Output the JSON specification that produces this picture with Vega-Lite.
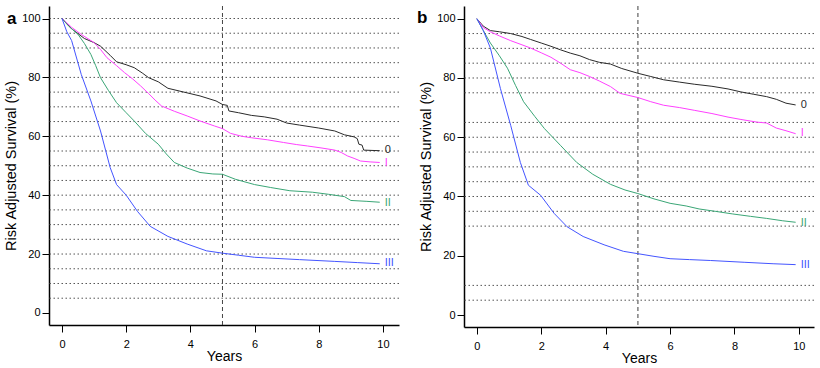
{
  "$schema": "https://vega.github.io/schema/vega-lite/v6.json",
  "padding": {"left": 3, "top": 5, "right": 0, "bottom": 0},
  "background": "white",
  "config": {
    "view": {"stroke": null},
    "font": "Liberation Sans",
    "axis": {"domainColor": "#000", "domainWidth": 1.5, "tickColor": "#000", "tickWidth": 1, "tickSize": 7, "labelColor": "#000", "labelFontSize": 11, "labelPadding": 2, "titleColor": "#000", "titleFontWeight": "normal", "grid": false},
    "axisX": {"titleFontSize": 14, "titlePadding": 0, "labelPadding": 6},
    "axisY": {"titleFontSize": 14.5, "titlePadding": 3},
    "title": {"fontSize": 17, "fontWeight": "bold", "color": "#000", "anchor": "start", "frame": "group", "offset": 0, "baseline": "alphabetic"}
  },
  "datasets": {
    "grid": [
      {"p": "a", "s": 5}, {"p": "a", "s": 10}, {"p": "a", "s": 15}, {"p": "a", "s": 20}, {"p": "a", "s": 25}, {"p": "a", "s": 30}, {"p": "a", "s": 35}, {"p": "a", "s": 40}, {"p": "a", "s": 45}, {"p": "a", "s": 50}, {"p": "a", "s": 55}, {"p": "a", "s": 60}, {"p": "a", "s": 65}, {"p": "a", "s": 70}, {"p": "a", "s": 75}, {"p": "a", "s": 80}, {"p": "a", "s": 85}, {"p": "a", "s": 90}, {"p": "a", "s": 95}, {"p": "a", "s": 100},
      {"p": "b", "s": 5}, {"p": "b", "s": 10}, {"p": "b", "s": 30}, {"p": "b", "s": 35}, {"p": "b", "s": 40}, {"p": "b", "s": 45}, {"p": "b", "s": 50}, {"p": "b", "s": 55}, {"p": "b", "s": 60}, {"p": "b", "s": 65}, {"p": "b", "s": 75}, {"p": "b", "s": 80}, {"p": "b", "s": 85}, {"p": "b", "s": 90}, {"p": "b", "s": 95}
    ],
    "ref": [{"t": 5}],
    "labels": [
      {"p": "a", "g": "0", "t": 9.9, "s": 55.4, "label": "0"},
      {"p": "a", "g": "I", "t": 9.9, "s": 50.9, "label": "I"},
      {"p": "a", "g": "II", "t": 9.9, "s": 37.4, "label": "II"},
      {"p": "a", "g": "III", "t": 9.9, "s": 16.8, "label": "III"},
      {"p": "b", "g": "0", "t": 9.9, "s": 70.9, "label": "0"},
      {"p": "b", "g": "I", "t": 9.9, "s": 61.3, "label": "I"},
      {"p": "b", "g": "II", "t": 9.9, "s": 31.2, "label": "II"},
      {"p": "b", "g": "III", "t": 9.9, "s": 17, "label": "III"}
    ],
    "curves": [
      {"p": "a", "g": "0", "t": 0, "s": 100}, {"p": "a", "g": "0", "t": 0.3, "s": 96.5}, {"p": "a", "g": "0", "t": 0.7, "s": 93.2}, {"p": "a", "g": "0", "t": 1.0, "s": 91.8}, {"p": "a", "g": "0", "t": 1.2, "s": 90.6}, {"p": "a", "g": "0", "t": 1.5, "s": 87.5}, {"p": "a", "g": "0", "t": 1.7, "s": 85.3}, {"p": "a", "g": "0", "t": 2.0, "s": 84.3}, {"p": "a", "g": "0", "t": 2.25, "s": 83.3}, {"p": "a", "g": "0", "t": 2.5, "s": 81.5}, {"p": "a", "g": "0", "t": 2.7, "s": 79.9}, {"p": "a", "g": "0", "t": 3.0, "s": 78.5}, {"p": "a", "g": "0", "t": 3.3, "s": 76.3}, {"p": "a", "g": "0", "t": 3.8, "s": 75.0}, {"p": "a", "g": "0", "t": 4.3, "s": 73.7}, {"p": "a", "g": "0", "t": 4.8, "s": 72.0}, {"p": "a", "g": "0", "t": 5.0, "s": 70.8}, {"p": "a", "g": "0", "t": 5.15, "s": 70.5}, {"p": "a", "g": "0", "t": 5.2, "s": 68.6}, {"p": "a", "g": "0", "t": 5.5, "s": 68.0}, {"p": "a", "g": "0", "t": 5.9, "s": 67.1}, {"p": "a", "g": "0", "t": 6.3, "s": 66.6}, {"p": "a", "g": "0", "t": 6.7, "s": 65.8}, {"p": "a", "g": "0", "t": 7.0, "s": 64.5}, {"p": "a", "g": "0", "t": 7.4, "s": 63.8}, {"p": "a", "g": "0", "t": 8.0, "s": 62.8}, {"p": "a", "g": "0", "t": 8.5, "s": 61.8}, {"p": "a", "g": "0", "t": 8.8, "s": 60.5}, {"p": "a", "g": "0", "t": 9.1, "s": 59.8}, {"p": "a", "g": "0", "t": 9.2, "s": 59.2}, {"p": "a", "g": "0", "t": 9.25, "s": 57.3}, {"p": "a", "g": "0", "t": 9.35, "s": 57.0}, {"p": "a", "g": "0", "t": 9.4, "s": 55.3}, {"p": "a", "g": "0", "t": 9.9, "s": 55.1},
      {"p": "a", "g": "I", "t": 0, "s": 100}, {"p": "a", "g": "I", "t": 0.3, "s": 97.0}, {"p": "a", "g": "I", "t": 0.6, "s": 94.6}, {"p": "a", "g": "I", "t": 1.0, "s": 91.8}, {"p": "a", "g": "I", "t": 1.2, "s": 89.5}, {"p": "a", "g": "I", "t": 1.4, "s": 86.7}, {"p": "a", "g": "I", "t": 1.7, "s": 84.0}, {"p": "a", "g": "I", "t": 1.95, "s": 81.6}, {"p": "a", "g": "I", "t": 2.2, "s": 79.5}, {"p": "a", "g": "I", "t": 2.45, "s": 77.1}, {"p": "a", "g": "I", "t": 2.7, "s": 74.5}, {"p": "a", "g": "I", "t": 2.9, "s": 72.3}, {"p": "a", "g": "I", "t": 3.1, "s": 70.3}, {"p": "a", "g": "I", "t": 3.5, "s": 68.5}, {"p": "a", "g": "I", "t": 3.9, "s": 66.9}, {"p": "a", "g": "I", "t": 4.3, "s": 65.2}, {"p": "a", "g": "I", "t": 4.75, "s": 63.5}, {"p": "a", "g": "I", "t": 5.0, "s": 62.6}, {"p": "a", "g": "I", "t": 5.25, "s": 61.0}, {"p": "a", "g": "I", "t": 5.6, "s": 60.0}, {"p": "a", "g": "I", "t": 5.9, "s": 59.5}, {"p": "a", "g": "I", "t": 6.4, "s": 58.8}, {"p": "a", "g": "I", "t": 6.9, "s": 57.9}, {"p": "a", "g": "I", "t": 7.3, "s": 57.2}, {"p": "a", "g": "I", "t": 7.65, "s": 56.7}, {"p": "a", "g": "I", "t": 8.1, "s": 56.0}, {"p": "a", "g": "I", "t": 8.5, "s": 55.3}, {"p": "a", "g": "I", "t": 8.7, "s": 54.5}, {"p": "a", "g": "I", "t": 8.9, "s": 53.3}, {"p": "a", "g": "I", "t": 9.1, "s": 52.5}, {"p": "a", "g": "I", "t": 9.3, "s": 51.6}, {"p": "a", "g": "I", "t": 9.6, "s": 51.3}, {"p": "a", "g": "I", "t": 9.9, "s": 51.1},
      {"p": "a", "g": "II", "t": 0, "s": 100}, {"p": "a", "g": "II", "t": 0.2, "s": 97.5}, {"p": "a", "g": "II", "t": 0.5, "s": 94.6}, {"p": "a", "g": "II", "t": 0.7, "s": 91.5}, {"p": "a", "g": "II", "t": 0.9, "s": 87.8}, {"p": "a", "g": "II", "t": 1.05, "s": 84.0}, {"p": "a", "g": "II", "t": 1.2, "s": 79.9}, {"p": "a", "g": "II", "t": 1.45, "s": 75.5}, {"p": "a", "g": "II", "t": 1.7, "s": 71.4}, {"p": "a", "g": "II", "t": 2.0, "s": 68.0}, {"p": "a", "g": "II", "t": 2.25, "s": 65.2}, {"p": "a", "g": "II", "t": 2.6, "s": 61.0}, {"p": "a", "g": "II", "t": 3.0, "s": 57.3}, {"p": "a", "g": "II", "t": 3.25, "s": 54.0}, {"p": "a", "g": "II", "t": 3.5, "s": 51.1}, {"p": "a", "g": "II", "t": 3.9, "s": 49.2}, {"p": "a", "g": "II", "t": 4.3, "s": 47.7}, {"p": "a", "g": "II", "t": 4.7, "s": 47.2}, {"p": "a", "g": "II", "t": 5.0, "s": 47.1}, {"p": "a", "g": "II", "t": 5.4, "s": 45.4}, {"p": "a", "g": "II", "t": 6.0, "s": 43.6}, {"p": "a", "g": "II", "t": 6.5, "s": 42.6}, {"p": "a", "g": "II", "t": 7.1, "s": 41.5}, {"p": "a", "g": "II", "t": 7.8, "s": 41.0}, {"p": "a", "g": "II", "t": 8.3, "s": 40.3}, {"p": "a", "g": "II", "t": 8.8, "s": 39.5}, {"p": "a", "g": "II", "t": 9.0, "s": 38.2}, {"p": "a", "g": "II", "t": 9.5, "s": 37.9}, {"p": "a", "g": "II", "t": 9.9, "s": 37.6},
      {"p": "a", "g": "III", "t": 0, "s": 100}, {"p": "a", "g": "III", "t": 0.15, "s": 95.5}, {"p": "a", "g": "III", "t": 0.3, "s": 92.5}, {"p": "a", "g": "III", "t": 0.6, "s": 81.0}, {"p": "a", "g": "III", "t": 0.9, "s": 72.0}, {"p": "a", "g": "III", "t": 1.2, "s": 61.8}, {"p": "a", "g": "III", "t": 1.5, "s": 49.4}, {"p": "a", "g": "III", "t": 1.7, "s": 43.6}, {"p": "a", "g": "III", "t": 2.0, "s": 40.0}, {"p": "a", "g": "III", "t": 2.35, "s": 34.5}, {"p": "a", "g": "III", "t": 2.75, "s": 29.4}, {"p": "a", "g": "III", "t": 3.3, "s": 26.0}, {"p": "a", "g": "III", "t": 3.9, "s": 23.4}, {"p": "a", "g": "III", "t": 4.5, "s": 21.1}, {"p": "a", "g": "III", "t": 5.0, "s": 20.3}, {"p": "a", "g": "III", "t": 5.5, "s": 19.6}, {"p": "a", "g": "III", "t": 6.0, "s": 18.9}, {"p": "a", "g": "III", "t": 6.7, "s": 18.5}, {"p": "a", "g": "III", "t": 7.4, "s": 18.1}, {"p": "a", "g": "III", "t": 8.5, "s": 17.5}, {"p": "a", "g": "III", "t": 9.2, "s": 17.1}, {"p": "a", "g": "III", "t": 9.9, "s": 16.7},
      {"p": "b", "g": "0", "t": 0, "s": 100}, {"p": "b", "g": "0", "t": 0.2, "s": 97.5}, {"p": "b", "g": "0", "t": 0.42, "s": 96.0}, {"p": "b", "g": "0", "t": 0.7, "s": 95.6}, {"p": "b", "g": "0", "t": 1.05, "s": 95.0}, {"p": "b", "g": "0", "t": 1.4, "s": 94.0}, {"p": "b", "g": "0", "t": 1.67, "s": 93.0}, {"p": "b", "g": "0", "t": 2.0, "s": 91.8}, {"p": "b", "g": "0", "t": 2.3, "s": 90.7}, {"p": "b", "g": "0", "t": 2.6, "s": 89.5}, {"p": "b", "g": "0", "t": 2.9, "s": 88.4}, {"p": "b", "g": "0", "t": 3.2, "s": 87.5}, {"p": "b", "g": "0", "t": 3.5, "s": 86.2}, {"p": "b", "g": "0", "t": 3.8, "s": 85.3}, {"p": "b", "g": "0", "t": 4.15, "s": 84.7}, {"p": "b", "g": "0", "t": 4.5, "s": 83.2}, {"p": "b", "g": "0", "t": 5.0, "s": 81.6}, {"p": "b", "g": "0", "t": 5.4, "s": 80.5}, {"p": "b", "g": "0", "t": 5.8, "s": 79.4}, {"p": "b", "g": "0", "t": 6.3, "s": 78.6}, {"p": "b", "g": "0", "t": 6.75, "s": 77.9}, {"p": "b", "g": "0", "t": 7.3, "s": 77.2}, {"p": "b", "g": "0", "t": 7.8, "s": 76.3}, {"p": "b", "g": "0", "t": 8.2, "s": 75.3}, {"p": "b", "g": "0", "t": 8.6, "s": 74.5}, {"p": "b", "g": "0", "t": 9.0, "s": 73.7}, {"p": "b", "g": "0", "t": 9.3, "s": 72.8}, {"p": "b", "g": "0", "t": 9.6, "s": 71.5}, {"p": "b", "g": "0", "t": 9.9, "s": 70.9},
      {"p": "b", "g": "I", "t": 0, "s": 100}, {"p": "b", "g": "I", "t": 0.2, "s": 97.0}, {"p": "b", "g": "I", "t": 0.42, "s": 95.6}, {"p": "b", "g": "I", "t": 0.7, "s": 94.2}, {"p": "b", "g": "I", "t": 1.05, "s": 92.6}, {"p": "b", "g": "I", "t": 1.4, "s": 91.2}, {"p": "b", "g": "I", "t": 1.67, "s": 90.1}, {"p": "b", "g": "I", "t": 2.0, "s": 88.5}, {"p": "b", "g": "I", "t": 2.3, "s": 87.0}, {"p": "b", "g": "I", "t": 2.6, "s": 85.0}, {"p": "b", "g": "I", "t": 2.9, "s": 82.8}, {"p": "b", "g": "I", "t": 3.2, "s": 81.8}, {"p": "b", "g": "I", "t": 3.5, "s": 80.5}, {"p": "b", "g": "I", "t": 3.8, "s": 79.0}, {"p": "b", "g": "I", "t": 4.15, "s": 77.1}, {"p": "b", "g": "I", "t": 4.45, "s": 74.8}, {"p": "b", "g": "I", "t": 5.0, "s": 73.4}, {"p": "b", "g": "I", "t": 5.4, "s": 72.0}, {"p": "b", "g": "I", "t": 5.8, "s": 70.8}, {"p": "b", "g": "I", "t": 6.3, "s": 70.0}, {"p": "b", "g": "I", "t": 6.75, "s": 69.1}, {"p": "b", "g": "I", "t": 7.3, "s": 68.0}, {"p": "b", "g": "I", "t": 7.8, "s": 66.8}, {"p": "b", "g": "I", "t": 8.2, "s": 66.0}, {"p": "b", "g": "I", "t": 8.7, "s": 65.1}, {"p": "b", "g": "I", "t": 9.0, "s": 64.8}, {"p": "b", "g": "I", "t": 9.3, "s": 63.1}, {"p": "b", "g": "I", "t": 9.6, "s": 62.2}, {"p": "b", "g": "I", "t": 9.9, "s": 61.2},
      {"p": "b", "g": "II", "t": 0, "s": 100}, {"p": "b", "g": "II", "t": 0.2, "s": 96.0}, {"p": "b", "g": "II", "t": 0.42, "s": 91.8}, {"p": "b", "g": "II", "t": 0.7, "s": 87.5}, {"p": "b", "g": "II", "t": 0.95, "s": 83.3}, {"p": "b", "g": "II", "t": 1.2, "s": 77.5}, {"p": "b", "g": "II", "t": 1.45, "s": 72.0}, {"p": "b", "g": "II", "t": 1.8, "s": 67.0}, {"p": "b", "g": "II", "t": 2.1, "s": 62.9}, {"p": "b", "g": "II", "t": 2.6, "s": 57.2}, {"p": "b", "g": "II", "t": 3.1, "s": 51.5}, {"p": "b", "g": "II", "t": 3.6, "s": 47.5}, {"p": "b", "g": "II", "t": 4.15, "s": 44.1}, {"p": "b", "g": "II", "t": 4.6, "s": 42.2}, {"p": "b", "g": "II", "t": 5.0, "s": 41.0}, {"p": "b", "g": "II", "t": 5.5, "s": 39.2}, {"p": "b", "g": "II", "t": 6.0, "s": 37.7}, {"p": "b", "g": "II", "t": 6.5, "s": 36.8}, {"p": "b", "g": "II", "t": 6.9, "s": 35.8}, {"p": "b", "g": "II", "t": 7.4, "s": 35.0}, {"p": "b", "g": "II", "t": 7.95, "s": 34.1}, {"p": "b", "g": "II", "t": 8.5, "s": 33.3}, {"p": "b", "g": "II", "t": 9.0, "s": 32.6}, {"p": "b", "g": "II", "t": 9.5, "s": 31.8}, {"p": "b", "g": "II", "t": 9.9, "s": 31.3},
      {"p": "b", "g": "III", "t": 0, "s": 100}, {"p": "b", "g": "III", "t": 0.2, "s": 96.0}, {"p": "b", "g": "III", "t": 0.42, "s": 90.1}, {"p": "b", "g": "III", "t": 0.73, "s": 76.5}, {"p": "b", "g": "III", "t": 1.05, "s": 64.0}, {"p": "b", "g": "III", "t": 1.35, "s": 51.5}, {"p": "b", "g": "III", "t": 1.6, "s": 43.8}, {"p": "b", "g": "III", "t": 1.98, "s": 40.4}, {"p": "b", "g": "III", "t": 2.4, "s": 34.3}, {"p": "b", "g": "III", "t": 2.8, "s": 29.8}, {"p": "b", "g": "III", "t": 3.3, "s": 26.5}, {"p": "b", "g": "III", "t": 3.95, "s": 23.7}, {"p": "b", "g": "III", "t": 4.55, "s": 21.5}, {"p": "b", "g": "III", "t": 5.0, "s": 20.7}, {"p": "b", "g": "III", "t": 5.5, "s": 19.8}, {"p": "b", "g": "III", "t": 6.0, "s": 19.0}, {"p": "b", "g": "III", "t": 6.6, "s": 18.7}, {"p": "b", "g": "III", "t": 7.25, "s": 18.4}, {"p": "b", "g": "III", "t": 8.3, "s": 17.8}, {"p": "b", "g": "III", "t": 9.2, "s": 17.3}, {"p": "b", "g": "III", "t": 9.9, "s": 17.0}
    ]
  },
  "hconcat": [
    {
      "width": 350,
      "height": 319,
      "title": {"text": "a", "dx": -42, "dy": 26},
      "layer": [
        {
          "data": {"name": "grid"},
          "transform": [{"filter": "datum.p === 'a'"}],
          "mark": {"type": "rule", "color": "#555", "strokeWidth": 1, "strokeDash": [1.5, 2.5]},
          "encoding": {
            "y": {"field": "s", "type": "quantitative", "scale": {"domain": [-4.1, 104.25], "nice": false, "zero": false}, "axis": {"title": "Risk Adjusted Survival (%)", "values": [0, 20, 40, 60, 80, 100]}}
          }
        },
        {
          "data": {"name": "ref"},
          "mark": {"type": "rule", "color": "#444", "strokeWidth": 1, "strokeDash": [4, 3]},
          "encoding": {
            "x": {"field": "t", "type": "quantitative", "scale": {"domain": [-0.405, 10.5], "nice": false, "zero": false}, "axis": {"title": "Years", "values": [0, 2, 4, 6, 8, 10]}}
          }
        },
        {
          "data": {"name": "curves"},
          "transform": [{"filter": "datum.p === 'a'"}],
          "mark": {"type": "line", "strokeWidth": 1, "interpolate": "linear"},
          "encoding": {
            "x": {"field": "t", "type": "quantitative", "scale": {"domain": [-0.405, 10.5], "nice": false, "zero": false}, "axis": {"title": "Years", "values": [0, 2, 4, 6, 8, 10]}},
            "y": {"field": "s", "type": "quantitative", "scale": {"domain": [-4.1, 104.25], "nice": false, "zero": false}, "axis": {"title": "Risk Adjusted Survival (%)", "values": [0, 20, 40, 60, 80, 100]}},
            "color": {"field": "g", "type": "nominal", "scale": {"domain": ["0", "I", "II", "III"], "range": ["#2a2a2a", "#ff40ff", "#3aa676", "#4455ff"]}, "legend": null},
            "order": {"field": "t", "type": "quantitative"}
          }
        },
        {
          "data": {"name": "labels"},
          "transform": [{"filter": "datum.p === 'a'"}],
          "mark": {"type": "text", "align": "left", "baseline": "middle", "dx": 5, "fontSize": 11},
          "encoding": {
            "x": {"field": "t", "type": "quantitative", "scale": {"domain": [-0.405, 10.5], "nice": false, "zero": false}, "axis": {"title": "Years", "values": [0, 2, 4, 6, 8, 10]}},
            "y": {"field": "s", "type": "quantitative", "scale": {"domain": [-4.1, 104.25], "nice": false, "zero": false}, "axis": {"title": "Risk Adjusted Survival (%)", "values": [0, 20, 40, 60, 80, 100]}},
            "text": {"field": "label"},
            "color": {"field": "g", "type": "nominal", "scale": {"domain": ["0", "I", "II", "III"], "range": ["#000000", "#ff40ff", "#3aa676", "#4455ff"]}, "legend": null}
          }
        }
      ]
    },
    {
      "width": 350,
      "height": 321,
      "title": {"text": "b", "dx": -47, "dy": 26},
      "layer": [
        {
          "data": {"name": "grid"},
          "transform": [{"filter": "datum.p === 'b'"}],
          "mark": {"type": "rule", "color": "#555", "strokeWidth": 1, "strokeDash": [1.5, 2.5]},
          "encoding": {
            "y": {"field": "s", "type": "quantitative", "scale": {"domain": [-4.05, 104.3], "nice": false, "zero": false}, "axis": {"title": "Risk Adjusted Survival (%)", "values": [0, 20, 40, 60, 80, 100]}}
          }
        },
        {
          "data": {"name": "ref"},
          "mark": {"type": "rule", "color": "#888", "strokeWidth": 1.6, "strokeDash": [4, 3]},
          "encoding": {
            "x": {"field": "t", "type": "quantitative", "scale": {"domain": [-0.4, 10.47], "nice": false, "zero": false}, "axis": {"title": "Years", "values": [0, 2, 4, 6, 8, 10]}}
          }
        },
        {
          "data": {"name": "curves"},
          "transform": [{"filter": "datum.p === 'b'"}],
          "mark": {"type": "line", "strokeWidth": 1, "interpolate": "linear"},
          "encoding": {
            "x": {"field": "t", "type": "quantitative", "scale": {"domain": [-0.4, 10.47], "nice": false, "zero": false}, "axis": {"title": "Years", "values": [0, 2, 4, 6, 8, 10]}},
            "y": {"field": "s", "type": "quantitative", "scale": {"domain": [-4.05, 104.3], "nice": false, "zero": false}, "axis": {"title": "Risk Adjusted Survival (%)", "values": [0, 20, 40, 60, 80, 100]}},
            "color": {"field": "g", "type": "nominal", "scale": {"domain": ["0", "I", "II", "III"], "range": ["#2a2a2a", "#ff40ff", "#3aa676", "#4455ff"]}, "legend": null},
            "order": {"field": "t", "type": "quantitative"}
          }
        },
        {
          "data": {"name": "labels"},
          "transform": [{"filter": "datum.p === 'b'"}],
          "mark": {"type": "text", "align": "left", "baseline": "middle", "dx": 5, "fontSize": 11},
          "encoding": {
            "x": {"field": "t", "type": "quantitative", "scale": {"domain": [-0.4, 10.47], "nice": false, "zero": false}, "axis": {"title": "Years", "values": [0, 2, 4, 6, 8, 10]}},
            "y": {"field": "s", "type": "quantitative", "scale": {"domain": [-4.05, 104.3], "nice": false, "zero": false}, "axis": {"title": "Risk Adjusted Survival (%)", "values": [0, 20, 40, 60, 80, 100]}},
            "text": {"field": "label"},
            "color": {"field": "g", "type": "nominal", "scale": {"domain": ["0", "I", "II", "III"], "range": ["#000000", "#ff40ff", "#3aa676", "#4455ff"]}, "legend": null}
          }
        }
      ]
    }
  ],
  "bounds": "flush",
  "spacing": 65,
  "resolve": {"scale": {"color": "independent"}}
}
